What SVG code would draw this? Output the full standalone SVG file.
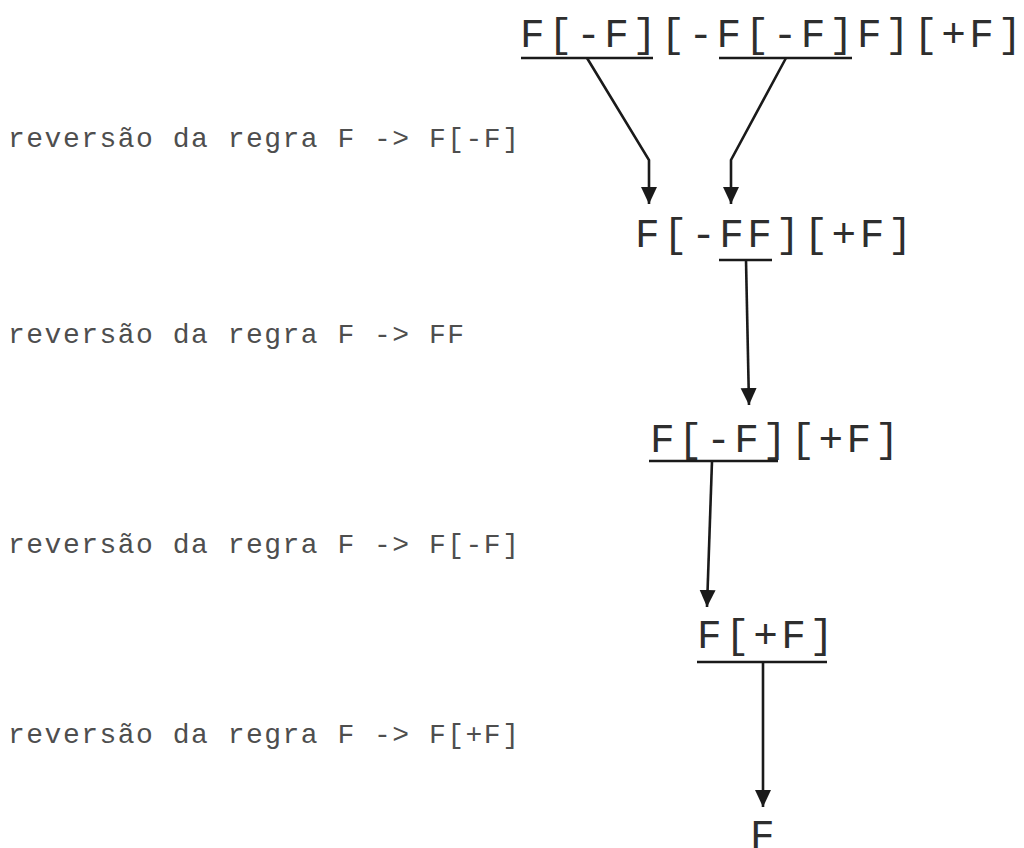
<svg xmlns="http://www.w3.org/2000/svg" width="1024" height="848" viewBox="0 0 1024 848">
  <defs>
    <style>
      .expr { font-family: "Liberation Mono", "Courier New", monospace; font-size: 41px; letter-spacing: 3.48px; fill: #2e2e2e; }
      .rule { font-family: "Liberation Mono", "Courier New", monospace; font-size: 28px; letter-spacing: 1.5px; fill: #4e4e4e; }
      .bar { stroke: #1a1a1a; stroke-width: 2.6; fill: none; }
      .edge { stroke: #1a1a1a; stroke-width: 2.6; fill: none; marker-end: url(#head); }
    </style>
    <marker id="head" markerUnits="userSpaceOnUse" markerWidth="18" markerHeight="20" refX="17" refY="8" orient="auto">
      <path d="M0,0 L17,8 L0,16 Z" fill="#1a1a1a"/>
    </marker>
  </defs>
  <rect width="1024" height="848" fill="#ffffff"/>

  <!-- rule labels -->
  <g id="labels">
    <text class="rule" x="8" y="147">reversão da regra F -&gt; F[-F]</text>
    <text class="rule" x="8" y="343">reversão da regra F -&gt; FF</text>
    <text class="rule" x="8" y="553">reversão da regra F -&gt; F[-F]</text>
    <text class="rule" x="8" y="743">reversão da regra F -&gt; F[+F]</text>
  </g>

  <!-- derivation strings, each with the matched part underlined -->
  <g id="s0">
    <text class="expr" x="520" y="47">F[-F][-F[-F]F][+F]</text>
    <line class="bar" x1="521" y1="58" x2="653" y2="58"/>
    <line class="bar" x1="719" y1="58" x2="852" y2="58"/>
  </g>
  <g id="s1">
    <text class="expr" x="635" y="247">F[-FF][+F]</text>
    <line class="bar" x1="719" y1="260" x2="772" y2="260"/>
  </g>
  <g id="s2">
    <text class="expr" x="650" y="452">F[-F][+F]</text>
    <line class="bar" x1="649" y1="461" x2="778" y2="461"/>
  </g>
  <g id="s3">
    <text class="expr" x="697" y="648">F[+F]</text>
    <line class="bar" x1="697" y1="662" x2="827" y2="662"/>
  </g>
  <g id="s4">
    <text class="expr" x="750" y="848">F</text>
  </g>

  <!-- reduction arrows -->
  <g id="connectors">
    <path class="edge" d="M587,58 L649,160 L649,204"/>
    <path class="edge" d="M786,58 L731,160 L731,204"/>
    <path class="edge" d="M746,260 L749,405"/>
    <path class="edge" d="M712,461 L707,607"/>
    <path class="edge" d="M763,662 L763,807"/>
  </g>
</svg>
